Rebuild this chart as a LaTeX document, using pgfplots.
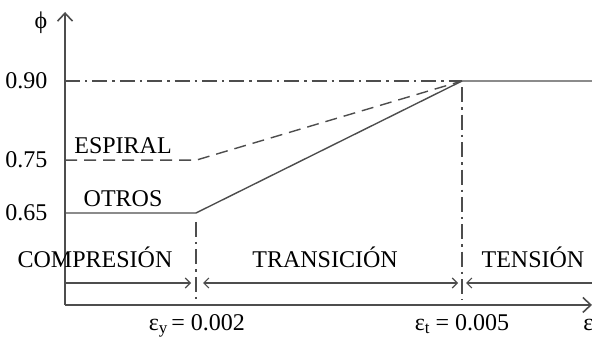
\documentclass[border=0pt]{standalone}
\usepackage{fontspec}
\setmainfont{Liberation Serif}
\usepackage{pgfplots}
\pgfplotsset{compat=1.18}
\usetikzlibrary{arrows.meta}

\definecolor{linegray}{HTML}{4D4D4D}
\newcommand{\sub}[1]{\raisebox{-0.12em}{\fontsize{8.5}{9}\selectfont #1}}

\begin{document}
\fontsize{12}{14}\selectfont
\begin{tikzpicture}
\begin{axis}[
  scale only axis,
  width=263.5pt, height=146.5pt,
  xmin=0.000523, xmax=0.006466,
  ymin=0.4758, ymax=1.0307,
  axis lines=left,
  axis line style={linegray, line width=0.8pt, -{Straight Barb[length=4pt,width=7.5pt]}},
  clip=false,
  xtick=\empty,
  ytick={0.65,0.75,0.90},
  yticklabels={0.65,0.75,0.90},
  ytick style={draw=none},
  yticklabel style={font=\fontsize{12}{14}\selectfont, inner sep=0pt, xshift=-6.5pt},
  every axis plot/.append style={linegray, line width=0.7pt, no markers},
]
% phi = 0.90 reference level
\addplot[linegray, dash pattern=on 7.5pt off 2.5pt on 1.2pt off 2.5pt] coordinates {(0.000523,0.90) (0.005,0.90)};
% spiral reinforcement
\addplot[linegray, dash pattern=on 6pt off 3.5pt] coordinates {(0.000523,0.75) (0.002,0.75) (0.005,0.90)};
% other members, with the tension plateau
\addplot[linegray, solid] coordinates {(0.000523,0.65) (0.002,0.65) (0.005,0.90) (0.006466,0.90)};
% zone limits
\addplot[linegray, dash pattern=on 7.5pt off 2.5pt on 1.2pt off 2.5pt] coordinates {(0.002,0.633) (0.002,0.4852)};
\addplot[linegray, dash pattern=on 7.5pt off 2.5pt on 1.2pt off 2.5pt] coordinates {(0.005,0.888) (0.005,0.4852)};

% zone arrows
\draw[linegray, line width=0.6pt, -{Straight Barb[length=2.5pt,width=5pt]}]
  (axis cs:0.000523,0.5174) -- (axis cs:0.001944,0.5174);
\draw[linegray, line width=0.6pt, {Straight Barb[length=2.5pt,width=5pt]}-{Straight Barb[length=2.5pt,width=5pt]}]
  (axis cs:0.002079,0.5174) -- (axis cs:0.004955,0.5174);
\draw[linegray, line width=0.6pt, {Straight Barb[length=2.5pt,width=5pt]}-]
  (axis cs:0.005045,0.5174) -- (axis cs:0.006466,0.5174);

% labels
\node[anchor=base] at (axis cs:0.001177,0.7636) {ESPIRAL};
\node[anchor=base] at (axis cs:0.001177,0.6614) {OTROS};
\node[anchor=base] at (axis cs:0.000861,0.5477) {COMPRESIÓN};
\node[anchor=base] at (axis cs:0.003455,0.5477) {TRANSICIÓN};
\node[anchor=base] at (axis cs:0.0058,0.5477) {TENSIÓN};
\node[anchor=base, inner sep=0pt] at (axis cs:0.00201,0.4265) {ε\sub{y}\,= 0.002};
\node[anchor=base, inner sep=0pt] at (axis cs:0.005,0.4265) {ε\sub{t} = 0.005};
\node[anchor=base west, inner sep=0pt] at (axis cs:0.006365,0.4265) {ε};
\node[anchor=base] at (axis cs:0.000252,0.9985) {ϕ};

\coordinate (bbl) at (axis cs:-0.0002105,0.4152);
\coordinate (btr) at (axis cs:0.006466,1.0534);
\end{axis}
\pgfresetboundingbox
\useasboundingbox (bbl) rectangle (btr);
\end{tikzpicture}
\end{document}
